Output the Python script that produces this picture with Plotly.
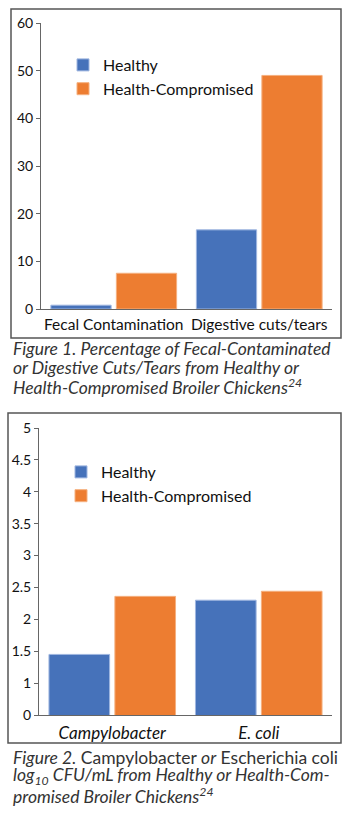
import plotly.graph_objects as go

# ---- data ----
cats1 = ["Fecal Contamination", "Digestive cuts/tears"]
healthy1 = [0.8, 16.6]
compromised1 = [7.5, 49.0]

cats2 = ["<i>Campylobacter</i>", "<i>E. coli</i>"]
healthy2 = [1.45, 2.30]
compromised2 = [2.36, 2.44]

y2_tickvals = [0.5, 1, 1.5, 2, 2.5, 3, 3.5, 4, 4.5, 5]
y2_ticktext = ["0", "1", "1.5", "2", "2.5", "3", "3.5", "4", "4.5", "5"]

series_names = ["Healthy", "Health-Compromised"]
BLUE = "#4672BA"
ORANGE = "#ED7D31"
FONT = "Lato"
W, H = 350, 814

def py(px):
    return 1 - px / H

def px_(x):
    return x / W

fig = go.Figure()
fig.add_trace(go.Bar(x=cats1, y=healthy1, name=series_names[0], marker=dict(color=BLUE, line=dict(color="#9fb6e0", width=1)),
                     xaxis="x", yaxis="y", legend="legend"))
fig.add_trace(go.Bar(x=cats1, y=compromised1, name=series_names[1], marker=dict(color=ORANGE, line=dict(color="#f5b07f", width=1)),
                     xaxis="x", yaxis="y", legend="legend"))
fig.add_trace(go.Bar(x=cats2, y=healthy2, name=series_names[0], marker=dict(color=BLUE, line=dict(color="#9fb6e0", width=1)),
                     xaxis="x2", yaxis="y2", legend="legend2"))
fig.add_trace(go.Bar(x=cats2, y=compromised2, name=series_names[1], marker=dict(color=ORANGE, line=dict(color="#f5b07f", width=1)),
                     xaxis="x2", yaxis="y2", legend="legend2"))

axis_common = dict(showline=True, linecolor="#666", linewidth=1, showgrid=False, zeroline=False, automargin=False,
                   tickfont=dict(family=FONT, size=14, color="#111"))

fig.update_layout(
    width=W, height=H, margin=dict(l=0, r=0, t=0, b=0, autoexpand=False),
    paper_bgcolor="white", plot_bgcolor="white",
    barmode="group", bargap=0.1, bargroupgap=0.08,
    font=dict(family=FONT, color="#111"),
    xaxis=dict(axis_common, domain=[px_(41), px_(332)], anchor="y", ticks="", tickangle=0,
               tickfont=dict(family=FONT, size=15.5, color="#111"), ticklabelstandoff=1),
    yaxis=dict(axis_common, domain=[py(309), py(23)], anchor="x", range=[0, 60], dtick=10,
               ticks="outside", ticklen=4, tickcolor="#666"),
    xaxis2=dict(axis_common, domain=[px_(39), px_(332)], anchor="y2", ticks="", tickangle=0,
                tickfont=dict(family=FONT, size=17, color="#111"), ticklabelstandoff=3),
    yaxis2=dict(axis_common, domain=[py(715), py(428)], anchor="x2", range=[0.5, 5],
                tickvals=y2_tickvals, ticktext=y2_ticktext,
                ticks="outside", ticklen=4, tickcolor="#666"),
    legend=dict(x=px_(63), y=py(48), xanchor="left", yanchor="top", bgcolor="rgba(0,0,0,0)",
                font=dict(family=FONT, size=16, color="#111"), itemwidth=30, tracegroupgap=0),
    legend2=dict(x=px_(61), y=py(455), xanchor="left", yanchor="top", bgcolor="rgba(0,0,0,0)",
                 font=dict(family=FONT, size=16, color="#111"), itemwidth=30, tracegroupgap=0),
    shapes=[
        dict(type="rect", xref="paper", yref="paper", x0=px_(11), x1=px_(341), y0=py(338), y1=py(9),
             line=dict(color="#555", width=1.5)),
        dict(type="rect", xref="paper", yref="paper", x0=px_(8), x1=px_(341), y0=py(743), y1=py(413),
             line=dict(color="#555", width=1.5)),
    ],
)

cap_font = dict(family=FONT, size=17.5, color="#333")
captions = [
    ("<i>Figure 1. Percentage of Fecal-Contaminated</i>", 348),
    ("<i>or Digestive Cuts/Tears from Healthy or</i>", 367),
    ("<i>Health-Compromised Broiler Chickens<sup>24</sup></i>", 386),
    ("<i>Figure 2.</i> Campylobacter <i>or</i> Escherichia coli", 757),
    ("<i>log<sub>10</sub> CFU/mL from Healthy or Health-Com-</i>", 776),
    ("<i>promised Broiler Chickens<sup>24</sup></i>", 795),
]
for text, y in captions:
    fig.add_annotation(text=text, xref="paper", yref="paper", x=px_(11), y=py(y), xanchor="left", yanchor="middle",
                       showarrow=False, font=cap_font, align="left")

fig.write_html("out.html")
